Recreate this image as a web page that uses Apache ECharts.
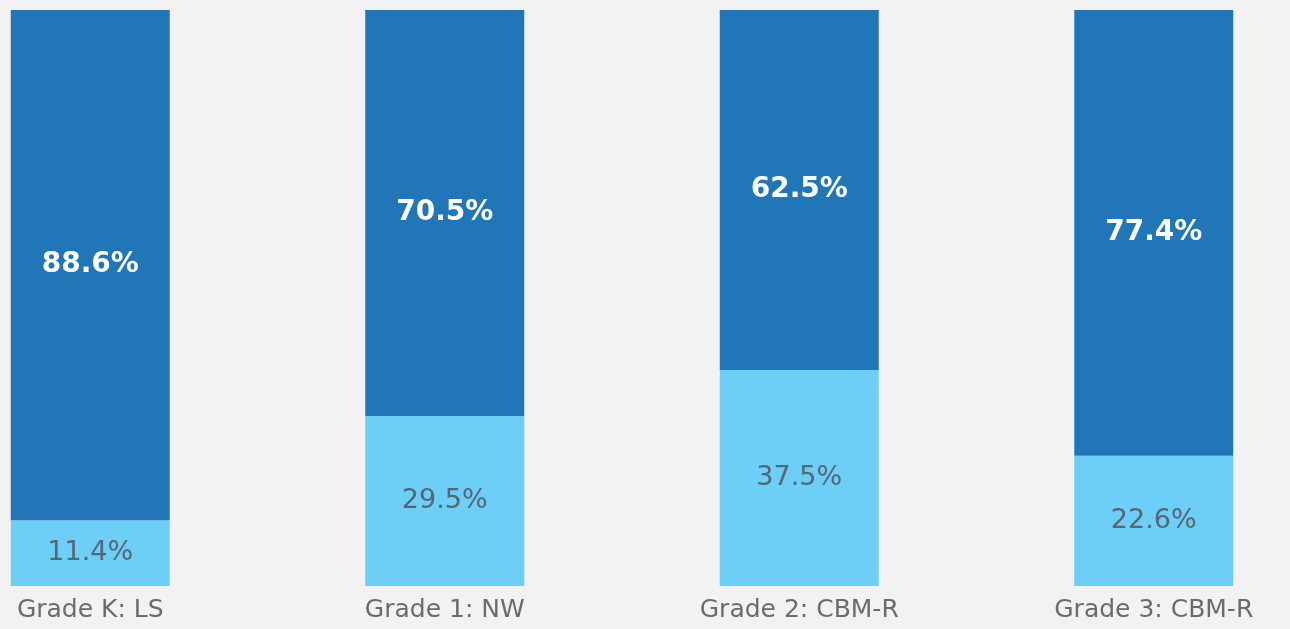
<!DOCTYPE html>
<html>
<head>
<meta charset="utf-8">
<title>Grade stacked bars</title>
<script src="https://cdn.jsdelivr.net/npm/echarts@6/dist/echarts.min.js"></script>
<style>
  html, body { margin: 0; padding: 0; background: #f2f2f2; }
  #chart { width: 1290px; height: 629px; }
</style>
</head>
<body>
<div id="chart"></div>
<script>
  // categories along the bottom
  var grades = ['Grade K: LS', 'Grade 1: NW', 'Grade 2: CBM-R', 'Grade 3: CBM-R'];
  // share of students, percent
  var lowerShare = [11.4, 29.5, 37.5, 22.6];
  var upperShare = [88.6, 70.5, 62.5, 77.4];

  var pct = function(p) { return p.value.toFixed(1) + '%'; };

  var chart = echarts.init(document.getElementById('chart'));
  chart.setOption({
    backgroundColor: '#f2f2f2',
    animation: false,
    grid: {
      left: -87, width: 1418, top: 10, bottom: 43,
      containLabel: false,
      outerBoundsMode: 'none'
    },
    xAxis: {
      type: 'category',
      data: grades,
      axisLine: { show: false },
      axisTick: { show: false },
      axisLabel: {
        interval: 0,
        margin: 12,
        color: '#6b6b6b',
        fontFamily: 'DejaVu Sans',
        fontSize: 25
      }
    },
    yAxis: { type: 'value', min: 0, max: 100, show: false },
    series: [
      {
        name: 'lower',
        type: 'bar',
        stack: 'total',
        barWidth: 159,
        itemStyle: { color: '#6dcff6' },
        label: {
          show: true,
          position: 'inside',
          formatter: pct,
          color: '#566676',
          fontFamily: 'DejaVu Sans',
          fontSize: 27
        },
        data: lowerShare
      },
      {
        name: 'upper',
        type: 'bar',
        stack: 'total',
        barWidth: 159,
        itemStyle: { color: '#2176b8' },
        label: {
          show: true,
          position: 'inside',
          formatter: pct,
          color: '#ffffff',
          fontWeight: 'bold',
          fontFamily: 'DejaVu Sans',
          fontSize: 28
        },
        data: upperShare
      }
    ]
  });
</script>
</body>
</html>
